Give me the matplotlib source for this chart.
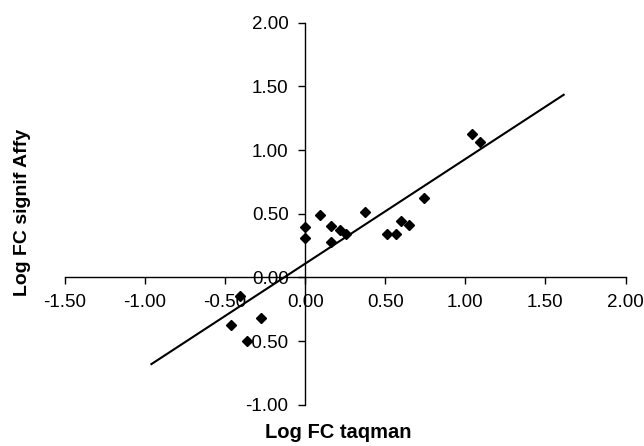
import numpy as np
import matplotlib
matplotlib.use("Agg")
import matplotlib.pyplot as plt
from matplotlib.ticker import FormatStrFormatter, MultipleLocator

# Log fold change: TaqMan (x) vs significant Affymetrix (y)
log_fc_taqman = [0.00, 0.00, 0.09, 0.16, 0.16, 0.22, 0.256, 0.375, 0.51, 0.564,
                 0.60, 0.65, 0.74, 1.04, 1.094, -0.41, -0.46, -0.362, -0.277]
log_fc_affy = [0.395, 0.309, 0.49, 0.405, 0.278, 0.369, 0.343, 0.515, 0.34, 0.34,
               0.44, 0.413, 0.625, 1.125, 1.067, -0.149, -0.376, -0.496, -0.318]

# linear trendline extended either side (Excel forecast)
trend_forecast_back = 0.5
trend_forecast_fwd = 0.52

plt.rcParams["font.family"] = ["Liberation Sans", "DejaVu Sans"]
plt.rcParams["axes.unicode_minus"] = False

fig = plt.figure(figsize=(6.44, 4.46), dpi=100)
ax = fig.add_axes([0.1008, 0.0926, 0.8705, 0.8565])

x = np.array(log_fc_taqman)
y = np.array(log_fc_affy)
slope, intercept = np.polyfit(x, y, 1)
xt = np.array([x.min() - trend_forecast_back, x.max() + trend_forecast_fwd])
ax.plot(xt, slope * xt + intercept, color="black", lw=1.5)

ax.plot(x, y, linestyle="none", marker="D", ms=4.8, color="black")

ax.set_xlim(-1.5, 2.0)
ax.set_ylim(-1.0, 2.0)
ax.xaxis.set_major_locator(MultipleLocator(0.5))
ax.yaxis.set_major_locator(MultipleLocator(0.5))
ax.xaxis.set_major_formatter(FormatStrFormatter("%.2f"))
ax.yaxis.set_major_formatter(FormatStrFormatter("%.2f"))

ax.spines["left"].set_position(("data", 0))
ax.spines["bottom"].set_position(("data", 0))
ax.spines["right"].set_visible(False)
ax.spines["top"].set_visible(False)
for s in ("left", "bottom"):
    ax.spines[s].set_linewidth(1.0)

ax.tick_params(axis="both", direction="out", length=5, width=1.0,
               labelsize=13.5, color="black")
ax.tick_params(axis="x", pad=7)
ax.tick_params(axis="y", pad=7)

ax.set_xlabel("Log FC taqman", fontsize=14.5, fontweight="bold", va="center")
ax.xaxis.set_label_coords(0.487, -0.074)
ax.set_ylabel("Log FC signif Affy", fontsize=14, fontweight="bold", va="center")
ax.yaxis.set_label_coords(-0.0765, 0.503)

fig.savefig("out.png", dpi=100)
